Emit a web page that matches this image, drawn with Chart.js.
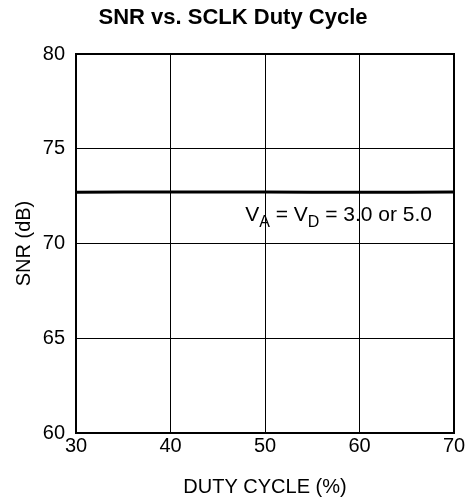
<!DOCTYPE html>
<html>
<head>
<meta charset="utf-8">
<script src="https://cdn.jsdelivr.net/npm/chart.js@4"></script>
<style>
  html, body { margin: 0; padding: 0; background: #fff; }
</style>
</head>
<body>
<canvas id="snrChart" width="471" height="504"></canvas>
<script>
const dutyCycle = [30, 40, 50, 60, 70];
const snrValues = [72.7, 72.72, 72.72, 72.7, 72.72];
const xTicks = [30, 40, 50, 60, 70];
const yTicks = [60, 65, 70, 75, 80];

const FONT = '"Liberation Sans", Arial, Helvetica, sans-serif';

// frame round the plot area, plus the V_A = V_D label with subscripts
const framePlugin = {
    id: 'frame',
    afterDatasetsDraw(chart) {
        const { ctx, chartArea: a, scales } = chart;
        ctx.save();
        ctx.strokeStyle = '#000';
        ctx.lineWidth = 2;
        ctx.strokeRect(a.left, a.top, a.right - a.left, a.bottom - a.top);

        let x = scales.x.getPixelForValue(47.9);
        const y = scales.y.getPixelForValue(71.2);
        const big = '21px ' + FONT;
        const small = '16px ' + FONT;
        const parts = [
            ['V', big, 0], ['A', small, 6], [' = V', big, 0], ['D', small, 6], [' = 3.0 or 5.0', big, 0]
        ];
        ctx.fillStyle = '#000';
        ctx.textBaseline = 'alphabetic';
        parts.forEach(([t, f, dy]) => {
            ctx.font = f;
            ctx.fillText(t, x, y + dy);
            x += ctx.measureText(t).width;
        });
        ctx.restore();
    }
};

const ctx = document.getElementById('snrChart').getContext('2d');
const snrChart = new Chart(ctx, {
    type: 'line',
    data: {
        labels: dutyCycle,
        datasets: [{
            label: 'SNR',
            data: dutyCycle.map((d, i) => ({ x: d, y: snrValues[i] })),
            borderColor: '#000',
            borderWidth: 3,
            pointRadius: 0,
            fill: false,
            tension: 0.4
        }]
    },
    options: {
        responsive: false,
        animation: false,
        layout: {
            padding: { left: 12, right: 17, top: 0, bottom: 5 }
        },
        scales: {
            x: {
                type: 'linear',
                min: 30,
                max: 70,
                afterBuildTicks: (s) => { s.ticks = xTicks.map(v => ({ value: v })); },
                afterFit: (s) => { s.height = 504 - 433 - 5; },
                grid: { color: '#000', lineWidth: 1, drawTicks: false },
                border: { display: false },
                ticks: { color: '#000', font: { family: FONT, size: 20 }, padding: 1, maxRotation: 0 },
                title: {
                    display: true,
                    text: 'DUTY CYCLE (%)',
                    color: '#000',
                    font: { family: FONT, size: 20 },
                    padding: 0
                }
            },
            y: {
                min: 60,
                max: 80,
                afterBuildTicks: (s) => { s.ticks = yTicks.map(v => ({ value: v })); },
                afterFit: (s) => { s.width = 76 - 12; },
                grid: { color: '#000', lineWidth: 1, drawTicks: false },
                border: { display: false },
                ticks: { color: '#000', font: { family: FONT, size: 20 }, padding: 11 },
                title: {
                    display: true,
                    text: 'SNR (dB)',
                    color: '#000',
                    font: { family: FONT, size: 20 },
                    padding: 0
                }
            }
        },
        plugins: {
            legend: { display: false },
            tooltip: { enabled: false },
            title: {
                display: true,
                text: 'SNR vs. SCLK Duty Cycle',
                color: '#000',
                font: { family: FONT, size: 22, weight: 'bold' },
                padding: { top: 5, bottom: 22.6 }
            }
        }
    },
    plugins: [framePlugin]
});
</script>
</body>
</html>
